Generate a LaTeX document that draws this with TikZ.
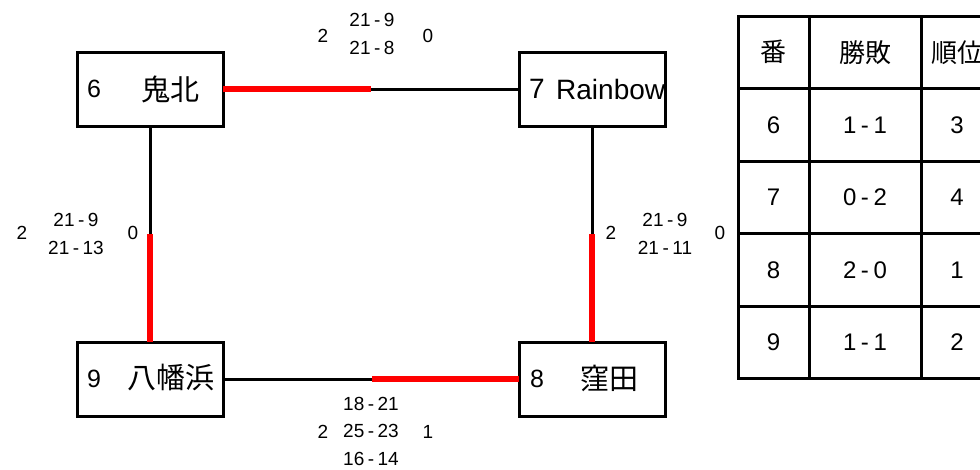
\documentclass[tikz,border=0pt]{standalone}
\usepackage{fontspec}
\setmainfont{Liberation Sans}
\newfontfamily\cjk{Noto Sans CJK JP}
\newcommand{\dsh}[2]{#1\kern3.5pt-\kern3.5pt#2}
\newcommand{\tdsh}[2]{#1\kern4.5pt-\kern4.5pt#2}
\begin{document}
\begin{tikzpicture}[x=1pt,y=-1pt,
  box/.style={draw,line width=3pt,minimum width=146pt,minimum height=74pt,inner sep=0pt,outer sep=0pt,anchor=north west},
  win/.style={draw=red,line width=5.5pt},
  lose/.style={draw=black,line width=3pt},
  num/.style={font=\fontsize{25}{28}\selectfont,inner sep=0pt},
  tname/.style={font=\cjk\fontsize{29}{32}\selectfont,inner sep=0pt},
  score/.style={font=\fontsize{19}{27.5}\selectfont,align=center,inner sep=0pt},
  sres/.style={font=\fontsize{19}{20}\selectfont,inner sep=0pt},
  cell/.style={draw,line width=3pt,anchor=north west,inner sep=0pt,outer sep=0pt,minimum height=72.5pt},
  ctext/.style={font=\fontsize{24}{28}\selectfont,inner sep=0pt},
  chead/.style={font=\cjk\fontsize{26}{28}\selectfont,inner sep=0pt}]
\useasboundingbox (0,0) rectangle (980,469);
\clip (0,0) rectangle (980,469);
% boxes
\node[box] (b6) at (77,52) {};
\node[box] (b7) at (519,52) {};
\node[box] (b9) at (77,342) {};
\node[box] (b8) at (519,342) {};
\node[num] (n6) at (94,89) {6};
\node[tname] (t6) at (170,89) {鬼北};
\node[num,font=\fontsize{28}{30}\selectfont] (n7) at (537,89) {7};
\node[num,anchor=west,font=\fontsize{28}{30}\selectfont] (t7) at (556,89) {Rainbow};
\node[num] (n9) at (94,379) {9};
\node[tname] (t9) at (171,378) {八幡浜};
\node[num] (n8) at (537,379) {8};
\node[tname] (t8) at (609,378) {窪田};
% split points
\coordinate (m67) at (371,89);
\coordinate (m69) at (150,234);
\coordinate (m78) at (592,234);
\coordinate (m98) at (372,379);
% connectors
\draw[win] (b6.east) -- (m67);
\draw[lose] (m67) -- (b7.west);
\draw[lose] (b6.south) -- (m69);
\draw[win] (m69) -- (b9.north);
\draw[lose] (b7.south) -- (m78);
\draw[win] (m78) -- (b8.north);
\draw[lose] (b9.east) -- (m98);
\draw[win] (m98) -- (b8.west);
% scores
\node[sres] (s1a) at (323,36) {2};
\node[score] (s1) at (372,34) {\dsh{21}{9}\\\dsh{21}{8}};
\node[sres] (s1b) at (428,36) {0};
\node[sres] (s2a) at (22,233) {2};
\node[score] (s2) at (76,234) {\dsh{21}{9}\\\dsh{21}{13}};
\node[sres] (s2b) at (133,233) {0};
\node[sres] (s3a) at (611,233) {2};
\node[score] (s3) at (665,234) {\dsh{21}{9}\\\dsh{21}{11}};
\node[sres] (s3b) at (720,233) {0};
\node[score] (s4) at (371,431) {\dsh{18}{21}\\\dsh{25}{23}\\\dsh{16}{14}};
\node[sres] (s4a) at (323,432) {2};
\node[sres] (s4b) at (428,432) {1};
% table
\foreach \r/\y in {0/16,1/88.5,2/161,3/233.5,4/306}{
  \node[cell,minimum width=71pt] (c\r a) at (738,\y) {};
  \node[cell,minimum width=112pt] (c\r b) at (809,\y) {};
  \node[cell,minimum width=72pt] (c\r c) at (921,\y) {};
}
\node[chead] (h1) at (c0a) {番};
\node[chead] (h2) at (c0b) {勝敗};
\node[chead] (h3) at (c0c) {順位};
\node[ctext] (v1a) at (c1a) {6}; \node[ctext] (v1b) at (c1b) {\tdsh{1}{1}}; \node[ctext] (v1c) at (c1c) {3};
\node[ctext] (v2a) at (c2a) {7}; \node[ctext] (v2b) at (c2b) {\tdsh{0}{2}}; \node[ctext] (v2c) at (c2c) {4};
\node[ctext] (v3a) at (c3a) {8}; \node[ctext] (v3b) at (c3b) {\tdsh{2}{0}}; \node[ctext] (v3c) at (c3c) {1};
\node[ctext] (v4a) at (c4a) {9}; \node[ctext] (v4b) at (c4b) {\tdsh{1}{1}}; \node[ctext] (v4c) at (c4c) {2};
\end{tikzpicture}
\end{document}
